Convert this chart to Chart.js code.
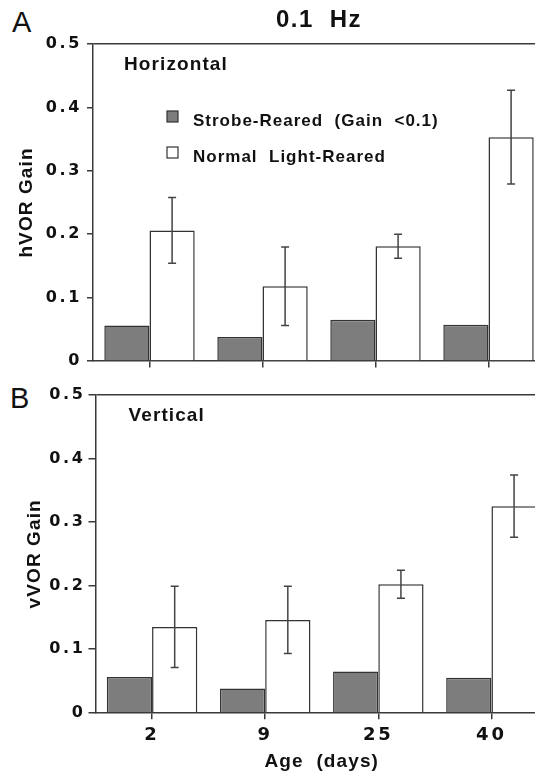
<!DOCTYPE html>
<html>
<head>
<meta charset="utf-8">
<script src="https://cdn.jsdelivr.net/npm/chart.js@4"></script>
<style>
  body { margin: 0; background: #fff; }
  #page { position: relative; width: 535px; height: 773px; overflow: hidden; background: #fff; }
  .panel { position: absolute; left: 0; }
  .letter { position: absolute; font-family: "Liberation Sans", Arial, sans-serif; font-size: 29px; line-height: 1; color: #111; }
</style>
</head>
<body>
<div id="page">
  <div class="letter" style="left:12px; top:8px;">A</div>
  <div class="letter" style="left:10px; top:384px;">B</div>
  <div class="panel" style="top:0;"><canvas id="chartA" width="545" height="380"></canvas></div>
  <div class="panel" style="top:380px;"><canvas id="chartB" width="548" height="393"></canvas></div>
</div>
<script>
// age groups (days)
const ages = ['2', '9', '25', '40'];
const seriesNames = ['Strobe-Reared  (Gain  <0.1)', 'Normal  Light-Reared'];

// horizontal VOR gain
const hStrobe = [0.056, 0.038, 0.065, 0.057];
const hNormal = [0.206, 0.118, 0.181, 0.353];
const hNormalErr = [0.052, 0.062, 0.019, 0.074];

// vertical VOR gain
const vStrobe = [0.056, 0.038, 0.065, 0.055];
const vNormal = [0.135, 0.146, 0.202, 0.325];
const vNormalErr = [0.064, 0.053, 0.022, 0.049];

const gainTicks = [0, 0.1, 0.2, 0.3, 0.4, 0.5];

const ink = '#111';
const lineColor = '#3a3a3a';
const grayFill = '#7d7d7d';
const wordFont = '"Liberation Sans", Arial, sans-serif';
const digitFont = '"DejaVu Sans", sans-serif';

Chart.defaults.font.family = wordFont;
Chart.defaults.font.weight = 'bold';
Chart.defaults.color = ink;

// the figure uses wide, spaced lettering; canvas letterSpacing gets close
const spacedText = {
    id: 'spacedText',
    beforeDraw(chart) {
        const ctx = chart.ctx;
        if (ctx._spaced) return;
        ctx._spaced = true;
        const fill = ctx.fillText;
        ctx.fillText = function () {
            const m = this.font.match(/([\d.]+)px/);
            const size = m ? parseFloat(m[1]) : 12;
            const k = this.font.includes('DejaVu') ? 0.16 : 0.06;
            this.letterSpacing = (size * k).toFixed(1) + 'px';
            return fill.apply(this, arguments);
        };
    }
};

// error bars on the light-reared series
const errorBars = {
    id: 'errorBars',
    afterDatasetsDraw(chart, args, opts) {
        const meta = chart.getDatasetMeta(1);
        const y = chart.scales.y;
        const values = chart.data.datasets[1].data;
        const ctx = chart.ctx;
        ctx.save();
        ctx.strokeStyle = '#444';
        ctx.lineWidth = 1.5;
        meta.data.forEach((bar, i) => {
            const top = y.getPixelForValue(values[i] + opts.errors[i]);
            const bottom = y.getPixelForValue(values[i] - opts.errors[i]);
            ctx.beginPath();
            ctx.moveTo(bar.x, top);
            ctx.lineTo(bar.x, bottom);
            ctx.moveTo(bar.x - 4, top);
            ctx.lineTo(bar.x + 4, top);
            ctx.moveTo(bar.x - 4, bottom);
            ctx.lineTo(bar.x + 4, bottom);
            ctx.stroke();
        });
        ctx.restore();
    }
};

// panel name and, on the top panel, the key
const panelNotes = {
    id: 'panelNotes',
    afterDraw(chart, args, opts) {
        const ctx = chart.ctx;
        const area = chart.chartArea;
        ctx.save();
        ctx.fillStyle = ink;
        ctx.textBaseline = 'middle';
        ctx.font = 'bold 19px ' + wordFont;
        ctx.fillText(opts.label, area.left + opts.labelX, area.top + 21);
        if (opts.showKey) {
            chart.data.datasets.forEach((ds, i) => {
                const cy = area.top + 77 + i * 36;
                ctx.fillStyle = ds.backgroundColor;
                ctx.strokeStyle = ds.borderColor;
                ctx.lineWidth = 1.2;
                ctx.fillRect(area.left + 74, cy - 10, 11, 11);
                ctx.strokeRect(area.left + 74, cy - 10, 11, 11);
                ctx.fillStyle = ink;
                ctx.font = 'bold 17px ' + wordFont;
                ctx.fillText(ds.label, area.left + 100, cy);
            });
        }
        ctx.restore();
    }
};

function makeChart(id, strobe, normal, errs, cfg) {
    return new Chart(document.getElementById(id), {
        type: 'bar',
        data: {
            labels: ages,
            datasets: [
                { label: seriesNames[0], data: strobe, backgroundColor: grayFill, borderColor: '#333', borderWidth: 1.5 },
                { label: seriesNames[1], data: normal, backgroundColor: '#fff', borderColor: '#333', borderWidth: 1.5 }
            ]
        },
        options: {
            responsive: false,
            animation: false,
            categoryPercentage: 0.8,
            barPercentage: 1.0,
            layout: { padding: { top: cfg.padTop, left: 0, right: 0, bottom: 0 } },
            plugins: {
                legend: { display: false },
                tooltip: { enabled: false },
                title: cfg.title,
                errorBars: { errors: errs },
                panelNotes: { label: cfg.label, labelX: cfg.labelX, showKey: cfg.showKey }
            },
            scales: {
                x: {
                    grid: { offset: false, drawOnChartArea: false, tickLength: 6.5, color: lineColor, lineWidth: 1.5 },
                    border: { color: lineColor, width: 1.5 },
                    ticks: { display: cfg.showAges, padding: 5, font: { family: digitFont, size: 18, weight: 'bold' } },
                    title: {
                        display: cfg.showAges,
                        text: 'Age  (days)',
                        font: { size: 19, weight: 'bold' },
                        padding: { top: 5, bottom: 0 }
                    },
                    afterFit: s => { s.height = cfg.xHeight; }
                },
                y: {
                    min: 0,
                    max: 0.5,
                    afterBuildTicks: s => { s.ticks = gainTicks.map(v => ({ value: v })); },
                    grid: {
                        color: c => (c.tick && c.tick.value === 0.5 ? lineColor : 'rgba(0,0,0,0)'),
                        tickColor: lineColor,
                        lineWidth: 1.5,
                        tickLength: cfg.yTick
                    },
                    border: { color: lineColor, width: 1.5 },
                    ticks: {
                        padding: cfg.yPad,
                        font: { family: digitFont, size: 16, weight: 'bold' },
                        callback: v => (v === 0 ? '0' : v.toFixed(1))
                    },
                    title: {
                        display: true,
                        text: cfg.yTitle,
                        font: { size: 19, weight: 'bold' },
                        padding: { top: cfg.yTitlePad, bottom: 0 }
                    },
                    afterFit: s => { s.width = cfg.yWidth; }
                }
            }
        },
        plugins: [spacedText, errorBars, panelNotes]
    });
}

makeChart('chartA', hStrobe, hNormal, hNormalErr, {
    padTop: 0,
    title: {
        display: true,
        text: '0.1  Hz',
        fullSize: false,
        font: { size: 24, weight: 'bold' },
        padding: { top: 6, bottom: 9.2 },
        color: ink
    },
    label: 'Horizontal',
    labelX: 31,
    showKey: true,
    showAges: false,
    xHeight: 19,
    yTick: 6,
    yPad: 5,
    yTitle: 'hVOR Gain',
    yTitlePad: 15,
    yWidth: 93
});

makeChart('chartB', vStrobe, vNormal, vNormalErr, {
    padTop: 15,
    title: { display: false },
    label: 'Vertical',
    labelX: 33,
    showKey: false,
    showAges: true,
    xHeight: 60.3,
    yTick: 7,
    yPad: 3,
    yTitle: 'vVOR Gain',
    yTitlePad: 23,
    yWidth: 95.5
});
</script>
</body>
</html>
